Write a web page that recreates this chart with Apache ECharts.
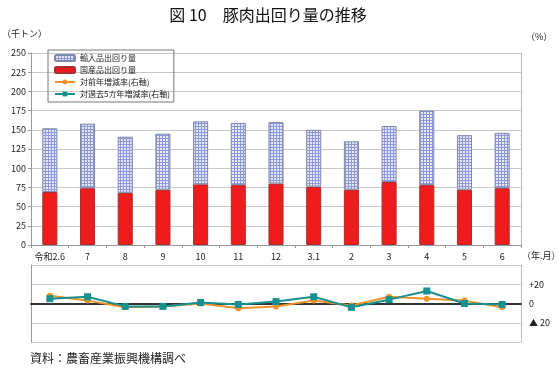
<!DOCTYPE html>
<html><head><meta charset="utf-8">
<script src="https://cdn.jsdelivr.net/npm/echarts@6/dist/echarts.min.js"></script>
<style>html,body{margin:0;padding:0;background:#fff}#c{width:558px;height:370px}</style>
</head><body><div id="c"></div>
<script>
const categories = ['令和2.6','7','8','9','10','11','12','3.1','2','3','4','5','6'];
const domestic = [69,74,68,72,79,78,80,76,72,82,78,72,74];
const imported = [83,84,73,73,82,81,80,74,63,73,97,71,72];
const yoyRate = [8,3,-4,-3,0,-5,-3,3,-2,7,5,3,-4];
const fiveYearRate = [5,7,-3,-3,1,-1,2,7,-4,4,13,0,-1];
const leftTicks = [0,25,50,75,100,125,150,175,200,225,250];

const FONT = '"Noto Sans CJK JP", "Noto Sans", sans-serif';
const cv = document.createElement('canvas');
cv.width = 3; cv.height = 3;
const cx = cv.getContext('2d');
cx.fillStyle = '#e3e7f9'; cx.fillRect(0,0,3,3);
cx.fillStyle = '#8e98d8'; cx.fillRect(0,0,3,1); cx.fillRect(0,0,1,3);
const pattern = {image: cv, repeat: 'repeat'};

const chart = echarts.init(document.getElementById('c'));
chart.setOption({
  animation: false,
  textStyle: {fontFamily: FONT},
  title: {text: '図 10　豚肉出回り量の推移', left: 263, textAlign: 'center', top: 2,
    textStyle: {fontSize: 16, fontWeight: 'normal', color: '#111', fontFamily: FONT}},
  legend: {
    orient: 'vertical', left: 48, top: 50, padding: [4, 4, 4, 6], itemGap: 4,
    borderColor: '#777', borderWidth: 1, itemWidth: 20, itemHeight: 6,
    textStyle: {fontSize: 8, color: '#222', fontFamily: FONT},
    data: ['輸入品出回り量','国産品出回り量','対前年増減率(右軸)','対過去5カ年増減率(右軸)']
  },
  grid: [
    {left: 31, right: 37, top: 53, bottom: 125},
    {left: 31, right: 37, top: 265, bottom: 28}
  ],
  xAxis: [
    {type: 'category', gridIndex: 0, data: categories,
      axisLine: {lineStyle: {color: '#999'}}, axisTick: {show: true, length: 3, lineStyle: {color: '#999'}},
      axisLabel: {interval: 0, fontSize: 9, color: '#222', margin: 7}},
    {type: 'category', gridIndex: 1, data: categories,
      axisLine: {onZero: true, lineStyle: {color: '#333', width: 2}}, axisTick: {show: false},
      axisLabel: {show: false}}
  ],
  yAxis: [
    {type: 'value', gridIndex: 0, min: 0, max: 250, interval: 25,
      axisLine: {show: true, lineStyle: {color: '#999'}}, axisTick: {show: true, length: 3, lineStyle: {color: '#999'}},
      axisLabel: {fontSize: 9, color: '#222', margin: 5},
      splitLine: {lineStyle: {color: '#c8c8c8'}}},
    {type: 'value', gridIndex: 0, position: 'right', min: 0, max: 250, interval: 25,
      axisLine: {show: true, lineStyle: {color: '#bbb'}}, axisTick: {show: false}, axisLabel: {show: false}, splitLine: {show: false}},
    {type: 'value', gridIndex: 1, min: -40, max: 40, interval: 20,
      axisLine: {show: true, lineStyle: {color: '#999'}}, axisTick: {show: false}, axisLabel: {show: false},
      splitLine: {lineStyle: {color: '#c8c8c8'}}},
    {type: 'value', gridIndex: 1, position: 'right', min: -40, max: 40, interval: 20,
      axisLine: {show: true, lineStyle: {color: '#bbb'}}, axisTick: {show: false},
      axisLabel: {fontSize: 9, color: '#222', margin: 8,
        formatter: v => v === 20 ? '+20' : v === 0 ? '0' : v === -20 ? '▲ 20' : ''},
      splitLine: {show: false}}
  ],
  series: [
    {name: '国産品出回り量', type: 'bar', stack: 's', xAxisIndex: 0, yAxisIndex: 0, data: domestic, barWidth: '40%',
      itemStyle: {color: '#ee1c1c', borderColor: '#a83030', borderWidth: 1}},
    {name: '輸入品出回り量', type: 'bar', stack: 's', xAxisIndex: 0, yAxisIndex: 0, data: imported, barWidth: '40%',
      itemStyle: {color: pattern, borderColor: '#8088a8', borderWidth: 1}},
    {name: '対前年増減率(右軸)', type: 'line', xAxisIndex: 1, yAxisIndex: 3, data: yoyRate,
      symbol: 'circle', symbolSize: 6, lineStyle: {color: '#f0922a', width: 2}, itemStyle: {color: '#f0922a'}},
    {name: '対過去5カ年増減率(右軸)', type: 'line', xAxisIndex: 1, yAxisIndex: 3, data: fiveYearRate,
      symbol: 'rect', symbolSize: 7, lineStyle: {color: '#17908f', width: 2}, itemStyle: {color: '#17908f'}}
  ],
  graphic: [
    {type: 'text', left: 2, top: 29, style: {text: '（千トン）', fontSize: 9, fill: '#222', fontFamily: FONT}},
    {type: 'text', left: 526, top: 32, style: {text: '（%）', fontSize: 9, fill: '#222', fontFamily: FONT}},
    {type: 'text', left: 522, top: 251, style: {text: '（年.月）', fontSize: 9, fill: '#222', fontFamily: FONT}},
    {type: 'text', left: 30, top: 352, style: {text: '資料：農畜産業振興機構調べ', fontSize: 12, fill: '#222', fontFamily: FONT}}
  ]
});
</script></body></html>
